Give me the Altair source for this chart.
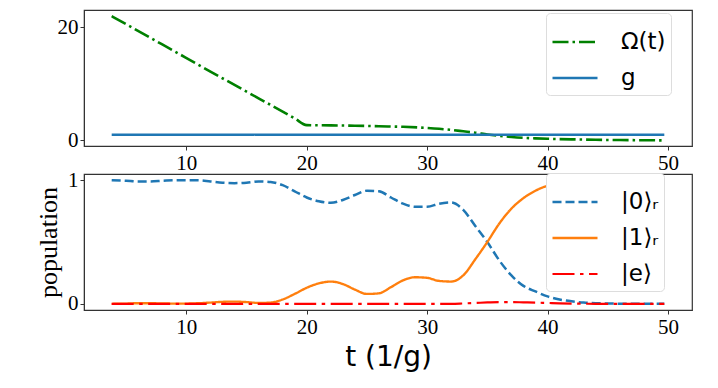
import altair as alt
import pandas as pd

# ---------------- data ----------------
omega_t = [3.8, 8, 12, 16, 19, 20, 22, 24, 26, 28, 30, 31, 32, 33, 34, 35, 36, 37, 38, 39, 40, 42, 44, 46, 48, 49.7]
omega_v = [22.0, 17.0, 12.2, 7.45, 3.9, 2.7, 2.65, 2.6, 2.5, 2.4, 2.2, 2.05, 1.85, 1.6, 1.35, 1.05, 0.8, 0.6, 0.45, 0.35, 0.28, 0.18, 0.1, 0.05, 0.02, 0.0]
g_t = [3.8, 49.7]
g_v = [1.0, 1.0]

t = [3.8, 5, 6, 7, 8, 9, 10, 11, 12, 13, 14, 15, 16, 17, 18, 19, 20, 21, 22, 23, 24, 25,
     26, 27, 28, 29, 30, 31, 32, 33, 34, 35, 36, 37, 38, 39, 40, 41, 42, 43, 44, 45, 46, 47, 48, 49, 49.7]
p0 = [1.0, 0.995, 0.99, 0.99, 0.995, 1.0, 1.0, 1.0, 0.99, 0.98, 0.976, 0.98, 0.99, 0.985, 0.96, 0.91,
      0.86, 0.83, 0.817, 0.84, 0.88, 0.915, 0.91, 0.86, 0.81, 0.785, 0.785, 0.81, 0.82, 0.76, 0.63,
      0.5, 0.35, 0.23, 0.145, 0.1, 0.06, 0.035, 0.02, 0.01, 0.005, 0.003, 0.001, 0.0, 0.0, 0.0, 0.0]
p1 = [0.0, 0.002, 0.005, 0.005, 0.003, 0.002, 0.002, 0.005, 0.01, 0.016, 0.018, 0.014, 0.007, 0.01,
      0.035, 0.08, 0.13, 0.165, 0.18, 0.16, 0.115, 0.08, 0.085, 0.135, 0.19, 0.215, 0.21, 0.185, 0.18,
      0.23, 0.36, 0.5, 0.65, 0.77, 0.855, 0.915, 0.955, 0.975, 0.985, 0.99, 0.994, 0.996, 0.998, 0.999,
      1.0, 1.0, 1.0]
pe = [0.0] * 29 + [0.003, 0.007, 0.011, 0.014, 0.014, 0.012, 0.01, 0.007, 0.004, 0.002, 0.001] + [0.0] * 7

top_names = ["Ω(t)", "g"]
bot_names = ["|0⟩ᵣ", "|1⟩ᵣ", "|e⟩"]

x_ticks = [10, 20, 30, 40, 50]

# ---------------- frames ----------------
df_top = pd.concat([
    pd.DataFrame({"t": omega_t, "v": omega_v, "s": top_names[0]}),
    pd.DataFrame({"t": g_t, "v": g_v, "s": top_names[1]}),
])
df_bot = pd.concat([
    pd.DataFrame({"t": t, "v": p0, "s": bot_names[0]}),
    pd.DataFrame({"t": t, "v": p1, "s": bot_names[1]}),
    pd.DataFrame({"t": t, "v": pe, "s": bot_names[2]}),
])

W, H = 608, 136
xscale = alt.Scale(domain=[1.5, 52], nice=False, zero=False)
SERIF = "Liberation Serif"
LAB = dict(labelFont=SERIF, labelFontSize=21, labelColor="black", labelPadding=2,
           tickColor="#333333", tickSize=4, domainColor="#333333", grid=False, format="d")


def legend(lx, ly):
    return alt.Legend(
        title=None, orient="none", legendX=lx, legendY=ly,
        symbolType="stroke", symbolSize=2025, labelFont="DejaVu Sans",
        labelFontSize=23, labelColor="black", labelOffset=22, rowPadding=-12,
        padding=5, fillColor="white", strokeColor="#dddddd", cornerRadius=4,
        labelLimit=200,
    )


leg_top = legend(462, 3)
top = alt.Chart(df_top).mark_line(interpolate="monotone").encode(
    x=alt.X("t:Q", scale=xscale, axis=alt.Axis(values=x_ticks, title=None, **LAB)),
    y=alt.Y("v:Q", scale=alt.Scale(domain=[-1.0, 23.1], nice=False, zero=False),
            axis=alt.Axis(values=[0, 20], title=None, **LAB)),
    color=alt.Color("s:N", scale=alt.Scale(domain=top_names, range=["#008000", "#1f77b4"]), legend=leg_top),
    strokeDash=alt.StrokeDash("s:N", scale=alt.Scale(domain=top_names, range=[[16, 4, 2.5, 4], [1, 0]]), legend=leg_top),
    strokeWidth=alt.StrokeWidth("s:N", scale=alt.Scale(domain=top_names, range=[2.6, 2.6]), legend=leg_top),
).properties(width=W, height=H)

leg_bot = legend(462, -1)
bottom = alt.Chart(df_bot).mark_line(interpolate="monotone").encode(
    x=alt.X("t:Q", scale=xscale,
            axis=alt.Axis(values=x_ticks, title="t (1/g)", titleFont="DejaVu Sans", titleFontSize=28,
                          titleFontWeight="normal", titleColor="black", titlePadding=6, **LAB)),
    y=alt.Y("v:Q", scale=alt.Scale(domain=[-0.05, 1.05], nice=False, zero=False),
            axis=alt.Axis(values=[0, 1], title="population",
                          titleFont=SERIF, titleFontSize=26,
                          titleFontWeight="normal", titleColor="black", titlePadding=6, **LAB)),
    color=alt.Color("s:N", scale=alt.Scale(domain=bot_names, range=["#1f77b4", "#ff7f0e", "#ff0000"]), legend=leg_bot),
    strokeDash=alt.StrokeDash("s:N", scale=alt.Scale(domain=bot_names, range=[[9, 4], [1, 0], [22, 5.5, 3.5, 5.5]]), legend=leg_bot),
    strokeWidth=alt.StrokeWidth("s:N", scale=alt.Scale(domain=bot_names, range=[2.5, 2.2, 3.8]), legend=leg_bot),
).properties(width=W, height=H)

chart = alt.vconcat(top, bottom, spacing=28, bounds="flush").resolve_scale(
    color="independent", strokeDash="independent", strokeWidth="independent"
).resolve_legend(
    color="independent", strokeDash="independent", strokeWidth="independent"
).properties(
    padding={"left": 26, "top": 1, "right": 5, "bottom": 5}
).configure_view(
    stroke="#333333", strokeWidth=1.2
)

chart.save("out.html", embed_options={"renderer": "svg", "actions": False})
